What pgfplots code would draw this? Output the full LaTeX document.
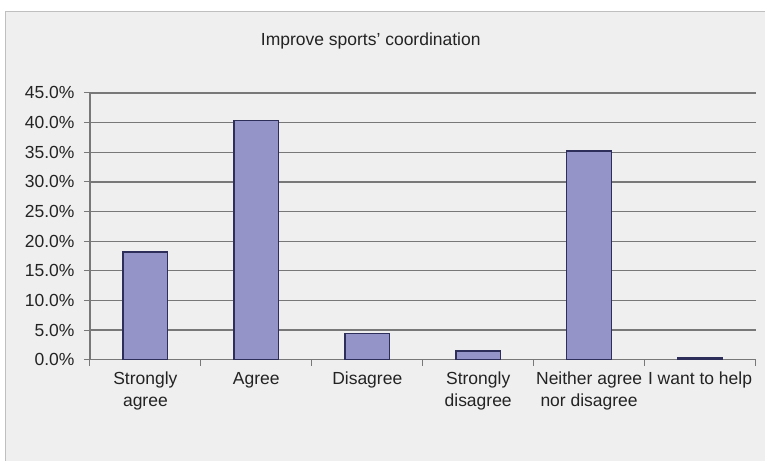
\documentclass[border=0pt]{standalone}
\usepackage{fontspec}
\setmainfont{Liberation Sans}
\usepackage{pgfplots}
\pgfplotsset{compat=1.18}
\definecolor{bg}{RGB}{238,239,238}
\definecolor{barfill}{RGB}{148,148,201}
\definecolor{baredge}{RGB}{46,46,90}
\definecolor{gridc}{RGB}{120,120,120}
\definecolor{txt}{RGB}{35,35,35}
\begin{document}
\begin{tikzpicture}
\fill[white] (0pt,0pt) rectangle (765pt,461pt);
\fill[bg] (6pt,0pt) rectangle (765pt,449pt);
\draw[black!25, line width=1pt] (6pt,0pt) -- (6pt,449pt) -- (765pt,449pt);
\node[font=\fontsize{17.5}{19}\selectfont, text=txt] at (371pt,420pt) {Improve sports' coordination};
\begin{axis}[
  at={(90pt,101pt)}, anchor=south west,
  scale only axis, width=666pt, height=267pt,
  ybar, bar width=44.6pt,
  xmin=-0.5, xmax=5.5, ymin=0, ymax=45,
  ytick={0,5,...,45},
  xtick={0,...,5},
  xticklabels={{Strongly\\agree},Agree,Disagree,{Strongly\\disagree},{Neither agree\\nor disagree},I want to help},
  x tick label style={align=center, font=\fontsize{17.5}{21.5}\selectfont, text=txt, anchor=north, yshift=-3pt},
  y tick label style={font=\fontsize{17.5}{20}\selectfont, text=txt, xshift=-6pt},
  major x tick style={draw=none},
  minor xtick={-0.5,0.5,...,5.5},
  axis x line*=bottom, axis y line*=left,
  axis line style={gridc, line width=1.3pt, -},
  ymajorgrids, grid style={gridc, line width=1.3pt},
  tick align=outside, tick style={gridc, line width=1pt},
  major tick length=6pt, minor tick length=6pt,
  /pgf/number format/assume math mode=true,
  yticklabel={\pgfmathprintnumber[fixed,fixed zerofill,precision=1]{\tick}\%},
]
\addplot[fill=barfill, draw=baredge, line width=1.3pt] coordinates {(0,18.2) (1,40.3) (2,4.4) (3,1.5) (4,35.2) (5,0.3)};
\end{axis}
\end{tikzpicture}
\end{document}
